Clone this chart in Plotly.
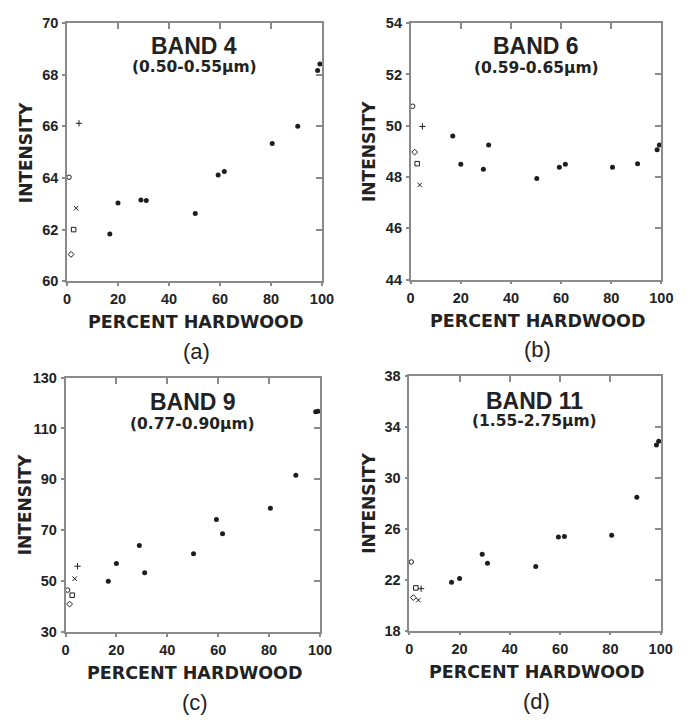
import plotly.graph_objects as go

# ---------------- data ----------------
hardwood_pct = [16.8, 20.0, 29.0, 31.1, 50.3, 59.3, 61.7, 80.5, 90.5, 98.3, 99.2]
band4 = [61.83, 63.03, 63.15, 63.13, 62.62, 64.12, 64.25, 65.34, 66.01, 68.17, 68.42]
band6 = [49.6, 48.5, 48.3, 49.25, 47.94, 48.38, 48.5, 48.38, 48.52, 49.06, 49.25]
band9 = [49.9, 56.9, 64.0, 53.2, 60.7, 74.2, 68.6, 78.6, 91.6, 116.6, 116.8]
band11 = [21.8, 22.1, 24.0, 23.3, 23.05, 25.36, 25.4, 25.5, 28.5, 32.6, 32.9]

conifer_symbols = ["circle-open", "diamond-open", "square-open", "x-thin-open", "cross-thin-open"]
conifer_pct = [0.8, 1.6, 2.6, 3.6, 4.7]
band4_con = [64.03, 61.04, 62.0, 62.83, 66.12]
band6_con = [50.76, 48.97, 48.52, 47.69, 49.97]
band9_con = [46.4, 40.9, 44.4, 50.9, 55.8]
band11_con = [23.4, 20.6, 21.36, 20.4, 21.3]

band_names = ["BAND 4", "BAND 6", "BAND 9", "BAND 11"]
band_ranges = ["(0.50-0.55\u03bcm)", "(0.59-0.65\u03bcm)", "(0.77-0.90\u03bcm)", "(1.55-2.75\u03bcm)"]
panel_letters = ["(a)", "(b)", "(c)", "(d)"]
y_ranges = [[60, 70], [44, 54], [30, 130], [18, 38]]
y_dticks = [2, 2, 20, 4]
x_range = [0, 100]
x_dtick = 20

hard_series = [band4, band6, band9, band11]
con_series = [band4_con, band6_con, band9_con, band11_con]

# ---------------- layout geometry (pixels) ----------------
W, H = 690, 724
boxes = [  # left, right, top, bottom in px
    (64.5, 325.5, 15.5, 279.4),
    (416.3, 673.0, 15.5, 277.7),
    (63.0, 323.5, 378.0, 637.9),
    (414.9, 672.3, 376.7, 636.7),
]
title_offsets = [(23, 45), (23, 46), (25, 47), (25, 46)]

def px_x(v):
    return v / W

def px_y(v):
    return 1 - v / H

fig = go.Figure()
ink = "#1e1e1e"
axis_col = "#8a8a8a"
tick_font = dict(family="Liberation Sans", size=14.5, color="#222", weight="bold")

layout = dict(
    width=W, height=H, margin=dict(l=0, r=0, t=0, b=0),
    paper_bgcolor="white", plot_bgcolor="white", showlegend=False,
)
annotations = []

for i in range(4):
    n = i + 1
    xa = "x" if n == 1 else f"x{n}"
    ya = "y" if n == 1 else f"y{n}"
    l, r, t, b = boxes[i]
    common = dict(showgrid=False, zeroline=False, showline=True, linecolor=axis_col, linewidth=1.5)
    layout[f"xaxis{n}"] = dict(
        domain=[px_x(l), px_x(r)], anchor=ya, range=x_range, dtick=x_dtick, tick0=0,
        ticks="outside", ticklen=3, tickcolor=axis_col, tickwidth=1.5, mirror=True,
        tickfont=tick_font, ticklabelstandoff=1, **common,
    )
    layout[f"yaxis{n}"] = dict(
        domain=[px_y(b), px_y(t)], anchor=xa, range=y_ranges[i], dtick=y_dticks[i], tick0=y_ranges[i][0],
        ticks="outside", ticklen=3, tickcolor=axis_col, tickwidth=1.5, mirror=True,
        tickfont=tick_font, ticklabelstandoff=1, **common,
    )
    # overlay axes for inward ticks on top and right
    no = n + 4
    layout[f"xaxis{no}"] = dict(
        domain=[px_x(l), px_x(r)], anchor=ya, overlaying=xa, side="top", range=x_range, dtick=x_dtick,
        ticks="inside", ticklen=6, tickcolor=axis_col, tickwidth=1.5, showticklabels=False,
        showgrid=False, zeroline=False, showline=False,
    )
    layout[f"yaxis{no}"] = dict(
        domain=[px_y(b), px_y(t)], anchor=xa, overlaying=ya, side="right", range=y_ranges[i], dtick=y_dticks[i],
        tick0=y_ranges[i][0],
        ticks="inside", ticklen=6, tickcolor=axis_col, tickwidth=1.5, showticklabels=False,
        showgrid=False, zeroline=False, showline=False,
    )
    fig.add_trace(go.Scatter(x=[], y=[], xaxis=f"x{no}", yaxis=f"y{no}", showlegend=False, hoverinfo="skip"))

    # hardwood stands
    fig.add_trace(go.Scatter(
        x=hardwood_pct, y=hard_series[i], mode="markers", xaxis=xa, yaxis=ya, cliponaxis=False,
        marker=dict(symbol="circle", size=5, color=ink), name="Stands",
    ))
    # conifer stands with individual symbols
    for k, sym in enumerate(conifer_symbols):
        fig.add_trace(go.Scatter(
            x=[conifer_pct[k]], y=[con_series[i][k]], mode="markers", xaxis=xa, yaxis=ya, cliponaxis=False,
            marker=dict(symbol=sym, size=4.5, color=ink, line=dict(width=1, color=ink)),
            name=sym,
        ))

    cx = (l + r) / 2
    o1, o2 = title_offsets[i]
    annotations.append(dict(text=band_names[i], x=px_x(cx), y=px_y(t + o1), xref="paper", yref="paper",
                            showarrow=False, font=dict(family="Liberation Sans", size=23, color="#222", weight="bold"),
                            xanchor="center", yanchor="middle"))
    annotations.append(dict(text=band_ranges[i], x=px_x(cx), y=px_y(t + o2), xref="paper", yref="paper",
                            showarrow=False, font=dict(family="DejaVu Sans", size=15.5, color="#222", weight="bold"),
                            xanchor="center", yanchor="middle"))
    annotations.append(dict(text="PERCENT HARDWOOD", x=px_x(cx + 2), y=px_y(b + 42), xref="paper", yref="paper",
                            showarrow=False, font=dict(family="DejaVu Sans", size=17.5, color="#222", weight="bold"),
                            xanchor="center", yanchor="middle"))
    annotations.append(dict(text=panel_letters[i], x=px_x(cx + 2), y=px_y(b + 72), xref="paper", yref="paper",
                            showarrow=False, font=dict(family="Liberation Sans", size=22, color="#222"),
                            xanchor="center", yanchor="middle"))
    annotations.append(dict(text="INTENSITY", x=px_x(l - 42), y=px_y((t + b) / 2), xref="paper", yref="paper",
                            showarrow=False, textangle=-90,
                            font=dict(family="DejaVu Sans", size=17, color="#222", weight="bold"),
                            xanchor="center", yanchor="middle"))

layout["annotations"] = annotations
fig.update_layout(**layout)
fig.write_html("out.html")
